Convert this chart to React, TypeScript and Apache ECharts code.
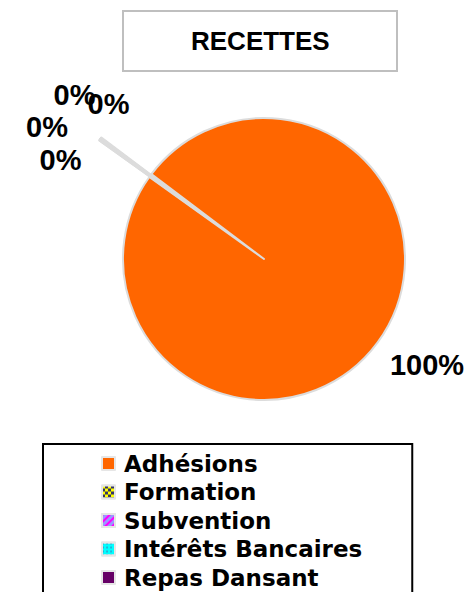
import React, { useEffect, useRef } from "react";
import * as echarts from "echarts";

const categories = ["Adhésions", "Formation", "Subvention", "Intérêts Bancaires", "Repas Dansant"];
const values = [4980, 5, 5, 5, 5];
const exploded = [false, true, true, true, true];
const titleText = "RECETTES";

const colors = ["#FF6600", "#FFFF00", "#9999FF", "#00FFFF", "#660066"];
const decals: any[] = [
  null,
  { symbol: "rect", symbolSize: 1, color: "#333366", dashArrayX: [[3, 3], [0, 3, 3, 0]], dashArrayY: [3, 0], rotation: 0 },
  { symbol: "rect", symbolSize: 1, color: "#FF00FF", dashArrayX: [1, 0], dashArrayY: [2, 3], rotation: -Math.PI / 4 },
  { symbol: "circle", symbolSize: 0.9, color: "#3399CC", dashArrayX: [2, 2], dashArrayY: [2, 2], rotation: 0 },
  null,
];
// label centre positions (layout only)
const labelPos: [number, number][] = [
  [427, 365],
  [60.5, 159.5],
  [47, 126.5],
  [74.5, 95],
  [108.5, 103.5],
];

export default function App() {
  const ref = useRef<HTMLDivElement>(null);
  useEffect(() => {
    if (!ref.current) return;
    const chart = echarts.init(ref.current, null, { renderer: "svg" });

    const cx = 264;
    const cy = 259;
    const radius = 141;
    const startAngle = 143;
    const offset = 62;
    const total = values.reduce((a, b) => a + b, 0);
    // mid-angle of the exploded group (clockwise from startAngle)
    let acc = 0;
    let expStart = 0;
    let expSum = 0;
    values.forEach((v, i) => {
      if (exploded[i]) {
        if (expSum === 0) expStart = acc;
        expSum += v;
      }
      acc += v;
    });
    const midDeg = startAngle - ((expStart + expSum / 2) / total) * 360;
    const midRad = (midDeg * Math.PI) / 180;
    const ecx = cx + offset * Math.cos(midRad);
    const ecy = cy - offset * Math.sin(midRad);

    const border = { borderColor: "#dcdcdc", borderWidth: 2 };
    const hidden = { color: "rgba(0,0,0,0)", borderWidth: 0 };

    const makeItem = (i: number, visible: boolean) => {
      const style: any = visible ? { color: colors[i], ...border } : { ...hidden };
      if (visible && decals[i]) style.decal = decals[i];
      return {
        name: categories[i],
        value: values[i],
        itemStyle: style,
        label: { show: visible },
      };
    };

    const labelCommon = {
      position: "outside",
      formatter: (p: any) => Math.round(p.percent) + "%",
      fontFamily: "Liberation Sans",
      fontWeight: "bold",
      fontSize: 29,
      color: "#000000",
    };

    const labelLayout = (params: any) => {
      const p = labelPos[params.dataIndex];
      return { x: p[0], y: p[1], align: "center", verticalAlign: "middle" };
    };

    const mainData = categories.map((_, i) => makeItem(i, !exploded[i]));
    const expData = categories.map((_, i) => makeItem(i, exploded[i]));

    chart.setOption({
      animation: false,
      backgroundColor: "#ffffff",
      title: {
        text: titleText,
        left: 123,
        top: 11,
        padding: [17, 68],
        borderColor: "#bfbfbf",
        borderWidth: 2,
        textStyle: {
          fontFamily: "Liberation Sans",
          fontWeight: "bold",
          fontSize: 26,
          color: "#000000",
        },
      },
      legend: {
        orient: "vertical",
        left: 43,
        top: 444,
        height: 300,
        padding: [8, 50, 30, 58],
        itemGap: 5.5,
        itemWidth: 13,
        itemHeight: 13,
        icon: "rect",
        borderColor: "#000000",
        borderWidth: 2,
        selectedMode: false,
        textStyle: {
          fontFamily: "DejaVu Sans",
          fontWeight: "bold",
          fontSize: 23,
          lineHeight: 23,
          color: "#000000",
          padding: [0, 0, 0, 4],
        },
        data: categories.map((name, i) => {
          const st: any = { color: colors[i], borderColor: "#e6e6e6", borderWidth: 2 };
          if (decals[i]) st.decal = decals[i];
          return { name, itemStyle: st };
        }),
      },
      series: [
        {
          type: "pie",
          name: "main",
          center: [cx, cy],
          radius,
          startAngle,
          clockwise: true,
          avoidLabelOverlap: false,
          emphasis: { disabled: true },
          label: labelCommon,
          labelLine: { show: false },
          labelLayout,
          data: mainData,
        },
        {
          type: "pie",
          name: "exploded",
          center: [ecx, ecy],
          radius,
          startAngle,
          clockwise: true,
          avoidLabelOverlap: false,
          emphasis: { disabled: true },
          label: labelCommon,
          labelLine: { show: false },
          labelLayout,
          data: expData,
        },
      ],
    });
    return () => chart.dispose();
  }, []);
  return (
    <div
      ref={ref}
      style={{ position: "fixed", left: 0, top: 0, width: 470, height: 592 }}
    />
  );
}
